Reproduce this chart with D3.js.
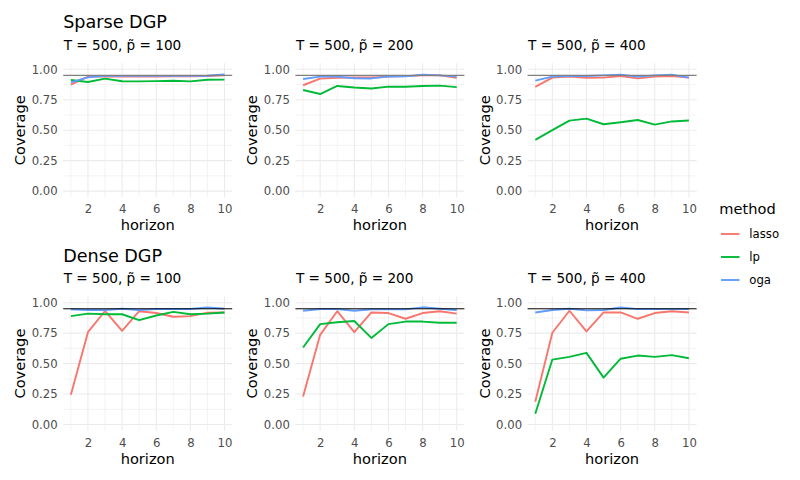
<!DOCTYPE html>
<html>
<head>
<meta charset="utf-8">
<script src="https://cdn.jsdelivr.net/npm/d3@7"></script>
<style>
  html, body { margin: 0; padding: 0; background: #ffffff; }
  svg { display: block; font-family: "DejaVu Sans", sans-serif; }
</style>
</head>
<body>
<svg id="chart" width="800" height="480"></svg>
<script>
// ---- data ----
const horizons = [1, 2, 3, 4, 5, 6, 7, 8, 9, 10];
const methods = ["lasso", "lp", "oga"];
const methodColors = ["#F8766D", "#00BA38", "#619CFF"];
const xTicks = [2, 4, 6, 8, 10];
const yTicks = [0, 0.25, 0.5, 0.75, 1];
const rowTitles = ["Sparse DGP", "Dense DGP"];
const panelSubtitles = ["T = 500, p\u0303 = 100", "T = 500, p\u0303 = 200", "T = 500, p\u0303 = 400"];
const target = 0.95;

// Sparse DGP
const sparse100_lasso = [0.874, 0.940, 0.942, 0.940, 0.940, 0.940, 0.942, 0.942, 0.945, 0.950];
const sparse100_lp    = [0.912, 0.896, 0.923, 0.902, 0.901, 0.903, 0.906, 0.901, 0.914, 0.915];
const sparse100_oga   = [0.893, 0.934, 0.946, 0.946, 0.946, 0.946, 0.946, 0.946, 0.947, 0.957];
const sparse200_lasso = [0.869, 0.923, 0.930, 0.933, 0.933, 0.940, 0.944, 0.950, 0.950, 0.930];
const sparse200_lp    = [0.830, 0.797, 0.863, 0.850, 0.842, 0.858, 0.857, 0.863, 0.866, 0.854];
const sparse200_oga   = [0.920, 0.940, 0.940, 0.926, 0.925, 0.940, 0.942, 0.955, 0.950, 0.940];
const sparse400_lasso = [0.855, 0.932, 0.940, 0.930, 0.932, 0.945, 0.925, 0.940, 0.945, 0.932];
const sparse400_lp    = [0.420, 0.500, 0.579, 0.595, 0.549, 0.565, 0.584, 0.546, 0.572, 0.580];
const sparse400_oga   = [0.907, 0.940, 0.945, 0.945, 0.950, 0.955, 0.940, 0.950, 0.956, 0.932];
// Dense DGP
const dense100_lasso  = [0.245, 0.758, 0.932, 0.769, 0.930, 0.915, 0.885, 0.890, 0.918, 0.920];
const dense100_lp     = [0.890, 0.910, 0.905, 0.905, 0.857, 0.895, 0.925, 0.905, 0.910, 0.920];
const dense100_oga    = [0.945, 0.940, 0.940, 0.950, 0.940, 0.948, 0.948, 0.948, 0.960, 0.950];
const dense200_lasso  = [0.230, 0.736, 0.930, 0.758, 0.920, 0.915, 0.868, 0.915, 0.930, 0.910];
const dense200_lp     = [0.632, 0.824, 0.840, 0.850, 0.711, 0.824, 0.845, 0.845, 0.835, 0.835];
const dense200_oga    = [0.934, 0.947, 0.947, 0.934, 0.945, 0.945, 0.945, 0.962, 0.950, 0.940];
const dense400_lasso  = [0.187, 0.753, 0.934, 0.764, 0.920, 0.920, 0.868, 0.915, 0.930, 0.920];
const dense400_lp     = [0.088, 0.533, 0.555, 0.588, 0.385, 0.540, 0.566, 0.555, 0.570, 0.544];
const dense400_oga    = [0.920, 0.940, 0.950, 0.937, 0.940, 0.960, 0.947, 0.947, 0.947, 0.947];

const panelSeries = [
  [[sparse100_lasso, sparse100_lp, sparse100_oga],
   [sparse200_lasso, sparse200_lp, sparse200_oga],
   [sparse400_lasso, sparse400_lp, sparse400_oga]],
  [[dense100_lasso, dense100_lp, dense100_oga],
   [dense200_lasso, dense200_lp, dense200_oga],
   [dense400_lasso, dense400_lp, dense400_oga]]
];

// ---- layout ----
const svg = d3.select("#chart");
const colLefts = [63.2, 295.4, 527.6];
const panelW = 169;
const rowTops = [63.2, 296.6];
const panelH = 134;
const hlineStyles = [{ color: "#808080", width: 1.4 }, { color: "#000000", width: 1.0 }];

const xDomain = [1 - 0.45, 10 + 0.45];
const yDomain = [-0.05, 1.05];
const fmt = d3.format(".2f");

rowTitles.forEach((title, r) => {
  const top = rowTops[r];
  svg.append("text")
    .attr("x", colLefts[0]).attr("y", top - 34.9)
    .attr("font-size", 17.6).attr("fill", "#000")
    .text(title);

  for (let c = 0; c < 3; c++) {
    const left = colLefts[c];
    const x = d3.scaleLinear().domain(xDomain).range([left, left + panelW]);
    const y = d3.scaleLinear().domain(yDomain).range([top + panelH, top]);
    const g = svg.append("g");

    // subtitle
    svg.append("text")
      .attr("x", left + 0.5).attr("y", top - 13.2)
      .attr("font-size", 13.6).attr("fill", "#000")
      .text(panelSubtitles[c]);

    // minor grid
    const xMinor = [1, 3, 5, 7, 9];
    const yMinor = [0.125, 0.375, 0.625, 0.875];
    g.selectAll(".xminor").data(xMinor).join("line")
      .attr("class", "xminor")
      .attr("x1", d => x(d)).attr("x2", d => x(d))
      .attr("y1", top).attr("y2", top + panelH)
      .attr("stroke", "#ebebeb").attr("stroke-width", 0.6);
    g.selectAll(".yminor").data(yMinor).join("line")
      .attr("class", "yminor")
      .attr("y1", d => y(d)).attr("y2", d => y(d))
      .attr("x1", left).attr("x2", left + panelW)
      .attr("stroke", "#ebebeb").attr("stroke-width", 0.6);
    // major grid
    g.selectAll(".xmajor").data(xTicks).join("line")
      .attr("class", "xmajor")
      .attr("x1", d => x(d)).attr("x2", d => x(d))
      .attr("y1", top).attr("y2", top + panelH)
      .attr("stroke", "#ebebeb").attr("stroke-width", 1.1);
    g.selectAll(".ymajor").data(yTicks).join("line")
      .attr("class", "ymajor")
      .attr("y1", d => y(d)).attr("y2", d => y(d))
      .attr("x1", left).attr("x2", left + panelW)
      .attr("stroke", "#ebebeb").attr("stroke-width", 1.1);

    // axes (tick labels only)
    const xAxis = d3.axisBottom(x).tickValues(xTicks).tickSize(0).tickPadding(0).tickFormat(d3.format("d"));
    const xa = svg.append("g").attr("transform", `translate(0,${top + panelH})`).call(xAxis);
    xa.select(".domain").remove();
    xa.selectAll("text").attr("font-size", 11.7).attr("fill", "#4d4d4d")
      .attr("font-family", "DejaVu Sans").attr("dy", null).attr("y", 16.2);

    const yAxis = d3.axisLeft(y).tickValues(yTicks).tickSize(0).tickPadding(5.5).tickFormat(fmt);
    const ya = svg.append("g").attr("transform", `translate(${left},0)`).call(yAxis);
    ya.select(".domain").remove();
    ya.selectAll("text").attr("font-size", 11.7).attr("fill", "#4d4d4d")
      .attr("font-family", "DejaVu Sans");

    // axis titles
    svg.append("text")
      .attr("x", left + panelW / 2).attr("y", top + panelH + 33)
      .attr("text-anchor", "middle").attr("font-size", 14.6).attr("fill", "#000")
      .text("horizon");
    svg.append("text")
      .attr("transform", `translate(${left - 38},${top + panelH / 2}) rotate(-90)`)
      .attr("text-anchor", "middle").attr("font-size", 14.6).attr("fill", "#000")
      .text("Coverage");

    // series lines
    const line = d3.line().x((d, i) => x(horizons[i])).y(d => y(d));
    panelSeries[r][c].forEach((vals, m) => {
      g.append("path").datum(vals)
        .attr("d", line)
        .attr("fill", "none")
        .attr("stroke", methodColors[m])
        .attr("stroke-width", 1.9)
        .attr("stroke-linejoin", "round");
    });

    // reference line
    g.append("line")
      .attr("x1", left).attr("x2", left + panelW)
      .attr("y1", y(target)).attr("y2", y(target))
      .attr("stroke", hlineStyles[r].color)
      .attr("stroke-width", hlineStyles[r].width);
  }
});

// ---- legend ----
const legend = svg.append("g");
legend.append("text")
  .attr("x", 719.3).attr("y", 213.5)
  .attr("font-size", 14.6).attr("fill", "#000")
  .text("method");
methods.forEach((m, i) => {
  const yy = 234 + i * 23;
  legend.append("line")
    .attr("x1", 721).attr("x2", 739.5)
    .attr("y1", yy).attr("y2", yy)
    .attr("stroke", methodColors[i]).attr("stroke-width", 1.9);
  legend.append("text")
    .attr("x", 749.3).attr("y", yy + 4.2)
    .attr("font-size", 11.7).attr("fill", "#000")
    .text(m);
});
</script>
</body>
</html>
